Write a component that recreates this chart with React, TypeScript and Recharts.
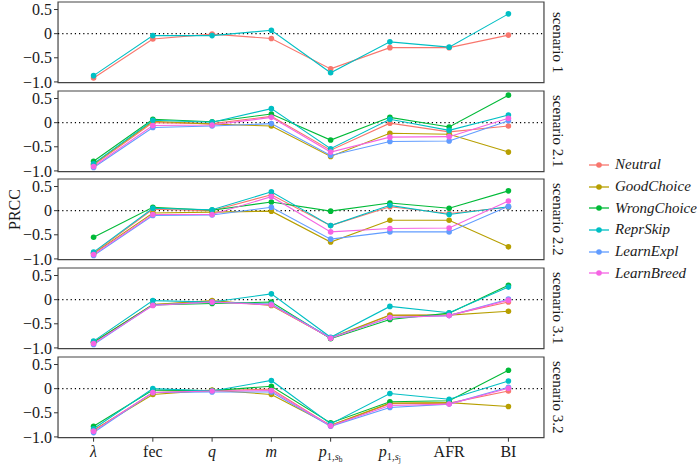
import React from 'react';
import { LineChart, Line, XAxis, YAxis, ReferenceLine, ReferenceArea } from 'recharts';

// ---- data ----
const categories = ['λ', 'fec', 'q', 'm', 'p1,sb', 'p1,sj', 'AFR', 'BI'];
const seriesNames = ['Neutral', 'GoodChoice', 'WrongChoice', 'ReprSkip', 'LearnExpl', 'LearnBreed'];
const seriesColors = ['#F8766D', '#B79F00', '#00BA38', '#00BFC4', '#619CFF', '#F564E3'];
const scenarioNames = ['scenario 1', 'scenario 2.1', 'scenario 2.2', 'scenario 3.1', 'scenario 3.2'];
const yTicks = [-1.0, -0.5, 0, 0.5];

const s1Neutral = [-0.92, -0.11, -0.01, -0.1, -0.73, -0.29, -0.29, -0.03];
const s1ReprSkip = [-0.87, -0.04, -0.04, 0.07, -0.81, -0.17, -0.28, 0.41];

const s21Neutral = [-0.88, 0.0, -0.02, 0.13, -0.57, -0.01, -0.19, -0.07];
const s21GoodChoice = [-0.86, 0.03, -0.03, -0.07, -0.7, -0.22, -0.24, -0.61];
const s21WrongChoice = [-0.8, 0.07, 0.02, 0.18, -0.36, 0.11, -0.09, 0.57];
const s21ReprSkip = [-0.85, 0.05, 0.01, 0.29, -0.54, 0.07, -0.16, 0.16];
const s21LearnExpl = [-0.93, -0.1, -0.07, -0.02, -0.68, -0.39, -0.38, 0.04];
const s21LearnBreed = [-0.91, -0.06, -0.05, 0.11, -0.61, -0.3, -0.29, 0.09];

const s22Neutral = [-0.88, 0.03, 0.0, 0.33, -0.31, 0.08, -0.06, 0.07];
const s22GoodChoice = [-0.89, -0.05, -0.03, -0.01, -0.65, -0.2, -0.2, -0.75];
const s22WrongChoice = [-0.55, 0.07, 0.01, 0.18, -0.01, 0.16, 0.05, 0.41];
const s22ReprSkip = [-0.86, 0.05, 0.02, 0.39, -0.31, 0.11, -0.08, 0.08];
const s22LearnExpl = [-0.93, -0.1, -0.09, 0.07, -0.59, -0.44, -0.44, 0.09];
const s22LearnBreed = [-0.91, -0.08, -0.08, 0.29, -0.44, -0.37, -0.36, 0.2];

const s31Neutral = [-0.89, -0.1, -0.04, -0.1, -0.8, -0.33, -0.32, -0.05];
const s31GoodChoice = [-0.88, -0.1, -0.02, -0.12, -0.79, -0.32, -0.32, -0.24];
const s31WrongChoice = [-0.88, -0.11, -0.08, -0.05, -0.81, -0.41, -0.28, 0.3];
const s31ReprSkip = [-0.86, -0.02, -0.05, 0.12, -0.78, -0.14, -0.27, 0.26];
const s31LearnExpl = [-0.93, -0.11, -0.05, -0.09, -0.79, -0.37, -0.33, 0.01];
const s31LearnBreed = [-0.91, -0.12, -0.05, -0.11, -0.8, -0.37, -0.33, -0.01];

const s32Neutral = [-0.87, -0.08, -0.04, -0.01, -0.77, -0.31, -0.3, -0.05];
const s32GoodChoice = [-0.86, -0.12, -0.03, -0.12, -0.76, -0.3, -0.29, -0.37];
const s32WrongChoice = [-0.78, -0.03, -0.04, 0.05, -0.71, -0.27, -0.25, 0.38];
const s32ReprSkip = [-0.83, 0.0, -0.05, 0.17, -0.73, -0.1, -0.22, 0.16];
const s32LearnExpl = [-0.91, -0.08, -0.07, -0.07, -0.78, -0.39, -0.32, 0.03];
const s32LearnBreed = [-0.88, -0.08, -0.05, -0.04, -0.77, -0.35, -0.32, 0.01];

const scenarioSeries: Record<string, number[]>[] = [
  { Neutral: s1Neutral, ReprSkip: s1ReprSkip },
  { Neutral: s21Neutral, GoodChoice: s21GoodChoice, WrongChoice: s21WrongChoice, ReprSkip: s21ReprSkip, LearnExpl: s21LearnExpl, LearnBreed: s21LearnBreed },
  { Neutral: s22Neutral, GoodChoice: s22GoodChoice, WrongChoice: s22WrongChoice, ReprSkip: s22ReprSkip, LearnExpl: s22LearnExpl, LearnBreed: s22LearnBreed },
  { Neutral: s31Neutral, GoodChoice: s31GoodChoice, WrongChoice: s31WrongChoice, ReprSkip: s31ReprSkip, LearnExpl: s31LearnExpl, LearnBreed: s31LearnBreed },
  { Neutral: s32Neutral, GoodChoice: s32GoodChoice, WrongChoice: s32WrongChoice, ReprSkip: s32ReprSkip, LearnExpl: s32LearnExpl, LearnBreed: s32LearnBreed },
];

const buildRows = (ser: Record<string, number[]>) =>
  categories.map((c, i) => {
    const row: any = { x: i + 1, cat: c };
    Object.keys(ser).forEach((k) => (row[k] = ser[k][i]));
    return row;
  });

// ---- layout ----
const FONT = "'Liberation Serif', 'Times New Roman', Times, serif";
const Y_DOMAIN: [number, number] = [-1.016, 0.656];
const X_DOMAIN: [number, number] = [0.4, 8.6];
const PANEL_TOPS = [2, 90.7, 179.4, 268.1, 356.8];
const PANEL_H = 80.7;
const PAD = 9;
const CHART_W = 560;
const Y_AXIS_W = 58;
const X_AXIS_H = 30;

const fmtY = (v: number) => {
  if (v === 0) return '0';
  const s = Math.abs(v).toFixed(1);
  return (v < 0 ? '\u2212' : '') + s;
};

const XTick = (props: any) => {
  const { x, y, payload } = props;
  const label = categories[payload.value - 1];
  const base = { fontFamily: FONT, fill: '#1a1a1a' };
  const ty = y + 13;
  if (label === 'p1,sb' || label === 'p1,sj') {
    const sub = label === 'p1,sb' ? 'b' : 'j';
    return (
      <text x={x} y={ty} textAnchor="middle" {...base} fontSize={16}>
        <tspan fontStyle="italic">p</tspan>
        <tspan fontSize={10.5} dy={3}>1,</tspan>
        <tspan fontSize={10.5} fontStyle="italic">s</tspan>
        <tspan fontSize={7.5} dy={2}>{sub}</tspan>
      </text>
    );
  }
  const italic = label === 'λ' || label === 'q' || label === 'm';
  return (
    <text x={x} y={ty} textAnchor="middle" {...base} fontSize={16} fontStyle={italic ? 'italic' : 'normal'}>
      {label}
    </text>
  );
};

const Panel = ({ idx }: { idx: number }) => {
  const ser = scenarioSeries[idx];
  const rows = buildRows(ser);
  const isLast = idx === scenarioNames.length - 1;
  const h = PANEL_H + 2 * PAD + (isLast ? X_AXIS_H : 0);
  return (
    <div style={{ position: 'absolute', left: 0, top: PANEL_TOPS[idx] - PAD, width: CHART_W + 40, height: h }}>
      <LineChart width={CHART_W} height={h} data={rows} margin={{ top: PAD, right: 16, bottom: PAD, left: 0 }} style={{ overflow: 'visible' }}>
        <XAxis
          type="number"
          dataKey="x"
          domain={X_DOMAIN}
          ticks={[1, 2, 3, 4, 5, 6, 7, 8]}
          allowDataOverflow
          hide={!isLast}
          height={X_AXIS_H}
          axisLine={false}
          tickSize={4}
          tickLine={{ stroke: '#333' }}
          tick={<XTick />}
          interval={0}
        />
        <YAxis
          type="number"
          domain={Y_DOMAIN}
          ticks={yTicks}
          allowDataOverflow
          width={Y_AXIS_W}
          axisLine={false}
          tickSize={4}
          tickLine={{ stroke: '#333' }}
          tickFormatter={fmtY}
          tick={{ fontFamily: FONT, fontSize: 16, fill: '#1a1a1a' }}
          interval={0}
        />
        <ReferenceLine y={0} stroke="#000" strokeWidth={1.2} strokeDasharray="1.2 3" />
        {seriesNames.filter((n) => ser[n]).map((n) => {
          const c = seriesColors[seriesNames.indexOf(n)];
          return (
            <Line
              key={n}
              type="linear"
              dataKey={n}
              stroke={c}
              strokeWidth={1.1}
              dot={{ r: 2.8, fill: c, stroke: c, strokeWidth: 0 }}
              isAnimationActive={false}
            />
          );
        })}
        <ReferenceArea
          x1={X_DOMAIN[0]}
          x2={X_DOMAIN[1]}
          y1={Y_DOMAIN[0]}
          y2={Y_DOMAIN[1]}
          fill="none"
          fillOpacity={0}
          stroke="#444"
          strokeWidth={1.2}
          ifOverflow="visible"
        />
      </LineChart>
      <div
        style={{
          position: 'absolute',
          left: 549,
          top: PAD,
          width: 16,
          height: PANEL_H,
          display: 'flex',
          alignItems: 'center',
          justifyContent: 'center',
          writingMode: 'vertical-rl',
          fontFamily: FONT,
          fontSize: 15,
          color: '#1a1a1a',
          whiteSpace: 'nowrap',
        }}
      >
        {scenarioNames[idx]}
      </div>
    </div>
  );
};

const Legend = () => (
  <div style={{ position: 'absolute', left: 588, top: 154 }}>
    {seriesNames.map((n, i) => (
      <div key={n} style={{ display: 'flex', alignItems: 'center', height: 21.7 }}>
        <svg width={22} height={10} style={{ display: 'block' }}>
          <line x1={1} y1={5} x2={21} y2={5} stroke={seriesColors[i]} strokeWidth={1.3} />
          <circle cx={11} cy={5} r={2.8} fill={seriesColors[i]} />
        </svg>
        <span style={{ marginLeft: 5, fontFamily: FONT, fontStyle: 'italic', fontSize: 15, color: '#1a1a1a' }}>{n}</span>
      </div>
    ))}
  </div>
);

export default function App() {
  return (
    <div style={{ position: 'absolute', left: 0, top: 0, width: 697, height: 467, background: '#fff', overflow: 'hidden' }}>
      {scenarioNames.map((_, i) => (
        <Panel key={i} idx={i} />
      ))}
      <div
        style={{
          position: 'absolute',
          left: 6,
          top: 180,
          width: 18,
          height: 60,
          display: 'flex',
          alignItems: 'center',
          justifyContent: 'center',
          writingMode: 'vertical-rl',
          transform: 'rotate(180deg)',
          fontFamily: FONT,
          fontSize: 16,
          color: '#1a1a1a',
        }}
      >
        PRCC
      </div>
      <Legend />
    </div>
  );
}
